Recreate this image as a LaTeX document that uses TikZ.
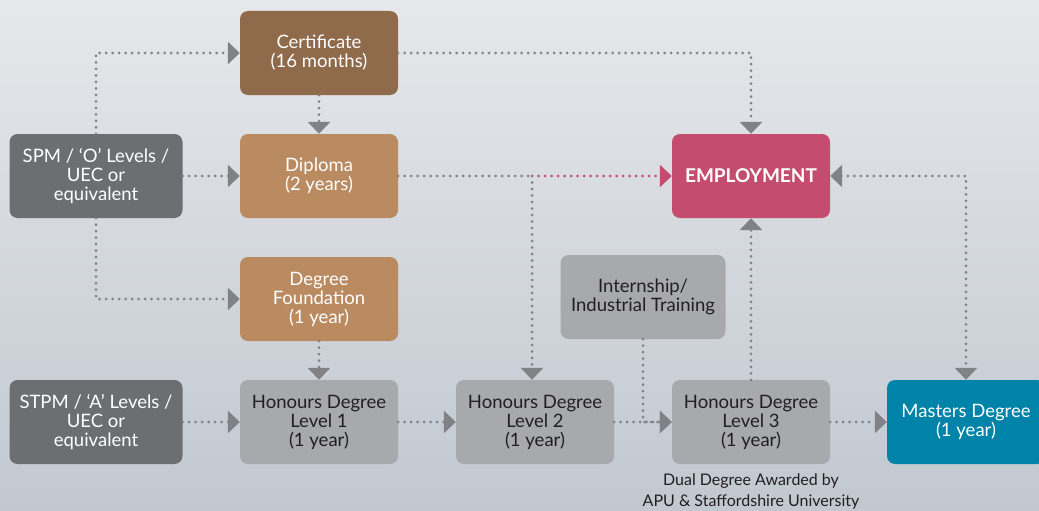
\documentclass[tikz,border=0pt]{standalone}
\usepackage{fontspec}
\setmainfont{Lato}
\usetikzlibrary{arrows.meta}

\definecolor{bgtop}{HTML}{E6E8EB}
\definecolor{bgbottom}{HTML}{C1C8D0}
\definecolor{certbrown}{HTML}{8F6A4B}
\definecolor{diptan}{HTML}{BA8A61}
\definecolor{entrygray}{HTML}{6D6E71}
\definecolor{levelgray}{HTML}{A7A9AC}
\definecolor{emppink}{HTML}{C44D6F}
\definecolor{masterblue}{HTML}{0083A9}
\definecolor{linkgray}{HTML}{808285}
\definecolor{darktext}{HTML}{231F20}

\tikzset{
  box/.style={rectangle, rounded corners=8pt, minimum width=158pt,
    minimum height=84pt, inner sep=2pt, align=center, text=white,
    font=\fontsize{18.5}{19}\selectfont},
  link/.style={draw=linkgray, line width=3pt, line cap=round,
    dash pattern=on 0pt off 6.5pt,
    -{Triangle[length=12pt,width=22pt,fill=linkgray]}},
}

\begin{document}
\begin{tikzpicture}[x=1pt,y=-1pt]

% fond degrade
\shade[top color=bgtop, bottom color=bgbottom] (0,0) rectangle (1039,511);
\useasboundingbox (0,0) rectangle (1039,511);

% entrees
\node[box, fill=entrygray, minimum width=173pt] (spm) at (96,176) {SPM / ‘O’ Levels /\\UEC or\\equivalent};
\node[box, fill=entrygray, minimum width=173pt] (stpm) at (96,422) {STPM / ‘A’ Levels /\\UEC or\\equivalent};

% pre-universitaire
\node[box, fill=certbrown] (cert) at (319,53) {Certificate\\(16 months)};
\node[box, fill=diptan] (dip) at (319,176) {Diploma\\(2 years)};
\node[box, fill=diptan] (found) at (319,299) {Degree\\Foundation\\(1 year)};

% licence
\node[box, fill=levelgray, text=darktext] (hd1) at (319,422) {Honours Degree\\Level 1\\(1 year)};
\node[box, fill=levelgray, text=darktext] (hd2) at (535,422) {Honours Degree\\Level 2\\(1 year)};
\node[box, fill=levelgray, text=darktext] (hd3) at (751,422) {Honours Degree\\Level 3\\(1 year)};
\node[box, fill=levelgray, text=darktext, minimum width=165pt] (intern) at (643,297) {Internship/\\Industrial Training};

\node[box, fill=emppink, font=\fontsize{19}{19}\selectfont\bfseries] (emp) at (751,176) {EMPLOYMENT};
\node[box, fill=masterblue] (mast) at (966,422) {Masters Degree\\(1 year)};

\node[text=darktext, align=center, font=\fontsize{16}{21}\selectfont, anchor=north] (dual) at (751,470) {Dual Degree Awarded by\\APU \& Staffordshire University};

% liaisons
\coordinate (split) at (532,176);

\draw[link] (spm.north) |- (cert.west);
\draw[link] (spm) -- (dip);
\draw[link] (spm.south) |- (found.west);
\draw[link] (cert) -- (dip);
\draw[link] (cert.east) -| (emp.north);
\draw[link, -] (dip.east) -- (split);
\draw[link, draw=emppink, -{Triangle[length=12pt,width=22pt,fill=emppink]}] (split) -- (emp.west);
\draw[link] (split) -- (split |- hd2.north);
\draw[link] (found) -- (hd1);
\draw[link] (stpm) -- (hd1);
\draw[link] (hd1) -- (hd2);
\draw[link] (hd2) -- (hd3);
\draw[link] (intern.south) |- (hd3.west);
\draw[link] (hd3) -- (emp);
\draw[link] (hd3) -- (mast);
\draw[link, {Triangle[length=12pt,width=22pt,fill=linkgray]}-{Triangle[length=12pt,width=22pt,fill=linkgray]}] (emp.east) -| (mast.north);

\end{tikzpicture}
\end{document}
